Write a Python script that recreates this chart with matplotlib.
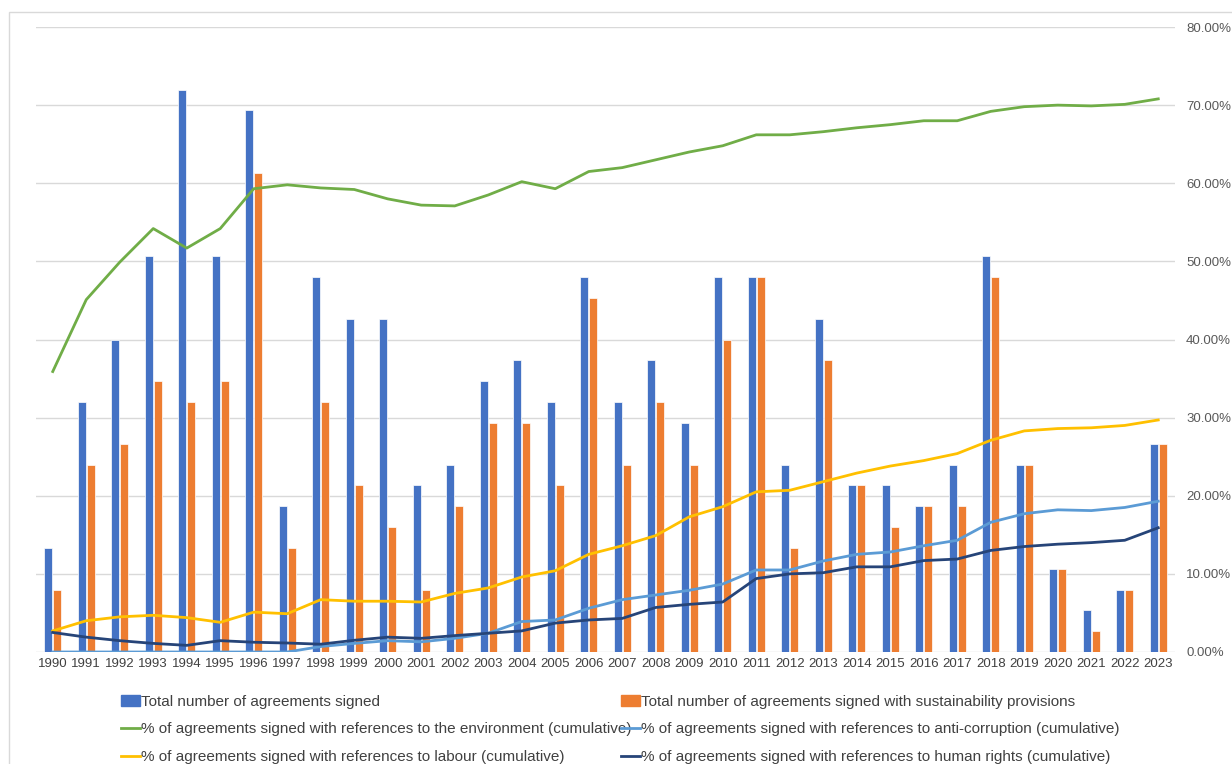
import numpy as np
import matplotlib
matplotlib.use("Agg")
import matplotlib.pyplot as plt
from matplotlib.patches import Rectangle
from matplotlib.lines import Line2D
from matplotlib.ticker import FuncFormatter

plt.rcParams['font.family'] = ['Liberation Sans', 'DejaVu Sans']

years = list(range(1990, 2024))

# agreement counts (left axis, hidden, 0-30)
total_signed = [5, 12, 15, 19, 27, 19, 26, 7, 18, 16, 16, 8, 9, 13, 14, 12, 18,
                12, 14, 11, 18, 18, 9, 16, 8, 8, 7, 9, 19, 9, 4, 2, 3, 10]
sustain_signed = [3, 9, 10, 13, 12, 13, 23, 5, 12, 8, 6, 3, 7, 11, 11, 8, 17,
                  9, 12, 9, 15, 18, 5, 14, 8, 6, 7, 7, 18, 9, 4, 1, 3, 10]

# cumulative shares, in %
env_pct = [35.9, 45.1, 49.9, 54.2, 51.7, 54.2, 59.3, 59.8, 59.4, 59.2, 58.0, 57.2,
           57.1, 58.5, 60.2, 59.3, 61.5, 62.0, 63.0, 64.0, 64.8, 66.2, 66.2, 66.6,
           67.1, 67.5, 68.0, 68.0, 69.2, 69.8, 70.0, 69.9, 70.1, 70.8]
anticorr_pct = [0, 0, 0, 0, 0, 0, 0, 0, 0.7, 1.1, 1.45, 1.3, 1.75, 2.4, 3.9, 4.1,
                5.6, 6.7, 7.3, 7.9, 8.7, 10.5, 10.5, 11.65, 12.5, 12.8, 13.6, 14.3,
                16.6, 17.7, 18.2, 18.1, 18.5, 19.3]
labour_pct = [2.7, 4.0, 4.5, 4.7, 4.4, 3.8, 5.1, 4.9, 6.7, 6.5, 6.5, 6.4, 7.5, 8.2,
              9.6, 10.4, 12.5, 13.6, 14.9, 17.3, 18.6, 20.5, 20.7, 21.8, 22.9, 23.8,
              24.5, 25.4, 27.1, 28.3, 28.6, 28.7, 29.0, 29.7]
hr_pct = [2.5, 1.9, 1.45, 1.1, 0.85, 1.45, 1.25, 1.15, 1.0, 1.5, 1.9, 1.75, 2.1,
          2.4, 2.7, 3.7, 4.1, 4.3, 5.7, 6.1, 6.4, 9.4, 10.0, 10.15, 10.9, 10.9,
          11.7, 11.9, 13.0, 13.5, 13.8, 14.0, 14.3, 15.9]

labels = [
    "Total number of agreements signed",
    "Total number of agreements signed with sustainability provisions",
    "% of agreements signed with references to the environment (cumulative)",
    "% of agreements signed with references to anti-corruption (cumulative)",
    "% of agreements signed with references to labour (cumulative)",
    "% of agreements signed with references to human rights (cumulative)",
]

c_blue = "#4472C4"
c_orange = "#ED7D31"
c_green = "#70AD47"
c_lblue = "#5B9BD5"
c_yellow = "#FFC000"
c_navy = "#264478"

fig = plt.figure(figsize=(12.32, 7.64), dpi=100)
fig.patches.append(Rectangle((9 / 1232, -0.1), 1.2, 0.1 + (764 - 12) / 764,
                             transform=fig.transFigure, fill=False,
                             edgecolor="#D9D9D9", linewidth=1.0))

ax = fig.add_axes([36 / 1232, 1 - 652 / 764, (1175 - 36) / 1232, (652 - 27) / 764])
x = np.arange(len(years))
w = 0.25
ax.bar(x - 0.135, total_signed, w, color=c_blue, edgecolor="white", linewidth=0.5, zorder=2)
ax.bar(x + 0.135, sustain_signed, w, color=c_orange, edgecolor="white", linewidth=0.5, zorder=2)
ax.set_ylim(0, 30)
ax.set_xlim(-0.5, len(years) - 0.5)
ax.set_yticks(np.linspace(0, 30, 9))
ax.set_yticklabels([])
ax.tick_params(axis="y", length=0)
ax.grid(axis="y", color="#D9D9D9", linewidth=1.0, zorder=0)
ax.set_axisbelow(True)
ax.set_xticks(x)
ax.set_xticklabels([str(y) for y in years], fontsize=9.5, color="#404040")
ax.tick_params(axis="x", length=0, pad=4)
for s in ax.spines.values():
    s.set_visible(False)

ax2 = ax.twinx()
ax2.plot(x, np.array(env_pct) / 100, color=c_green, lw=2)
ax2.plot(x, np.array(labour_pct) / 100, color=c_yellow, lw=2)
ax2.plot(x, np.array(anticorr_pct) / 100, color=c_lblue, lw=2)
ax2.plot(x, np.array(hr_pct) / 100, color=c_navy, lw=2)
ax2.set_ylim(0, 0.8)
ax2.set_yticks(np.linspace(0, 0.8, 9))
ax2.yaxis.set_major_formatter(FuncFormatter(lambda v, p: f"{v * 100:.2f}%"))
ax2.tick_params(axis="y", length=0, pad=8, labelsize=9.5, labelcolor="#595959")
for s in ax2.spines.values():
    s.set_visible(False)

leg_kw = dict(loc="upper left", frameon=False, fontsize=11, handlelength=1.25,
              handletextpad=0.08, labelspacing=0.88, borderaxespad=0, borderpad=0,
              labelcolor="#404040")
col1 = [Rectangle((0, 0), 1, 1, color=c_blue),
        Line2D([], [], color=c_green, lw=2),
        Line2D([], [], color=c_yellow, lw=2)]
col2 = [Rectangle((0, 0), 1, 1, color=c_orange),
        Line2D([], [], color=c_lblue, lw=2),
        Line2D([], [], color=c_navy, lw=2)]
fig.legend(col1, [labels[0], labels[2], labels[4]],
           bbox_to_anchor=(121 / 1232, 1 - 695 / 764), **leg_kw)
fig.legend(col2, [labels[1], labels[3], labels[5]],
           bbox_to_anchor=(621 / 1232, 1 - 695 / 764), **leg_kw)

fig.savefig("out.png", dpi=100)
